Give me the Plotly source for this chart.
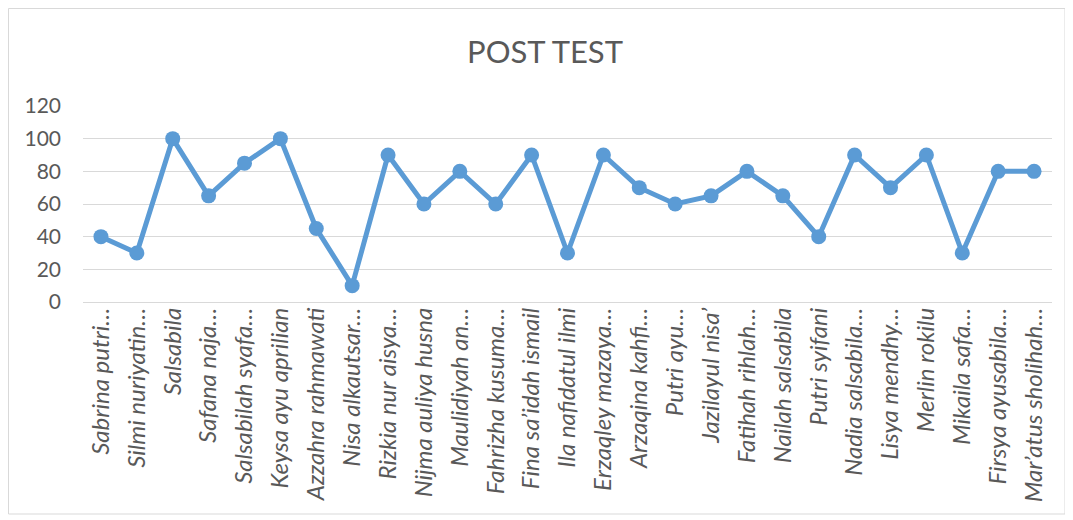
import plotly.graph_objects as go

names = [
    "Sabrina putri…", "Silmi nuriyatin…", "Salsabila", "Safana naja…",
    "Salsabilah syafa…", "Keysa ayu aprilian", "Azzahra rahmawati",
    "Nisa alkautsar…", "Rizkia nur aisya…", "Nijma auliya husna",
    "Maulidiyah an…", "Fahrizha kusuma…", "Fina sa’idah ismail",
    "Ila nafidatul ilmi", "Erzaqley mazaya…", "Arzaqina kahfi…",
    "Putri ayu…", "Jazilayul nisa’", "Fatihah rihlah…", "Nailah salsabila",
    "Putri syifani", "Nadia salsabila…", "Lisya mendhy…", "Merlin rokilu",
    "Mikaila safa…", "Firsya ayusabila…", "Mar’atus sholihah…",
]
scores = [40, 30, 100, 65, 85, 100, 45, 10, 90, 60, 80, 60, 90, 30, 90, 70,
          60, 65, 80, 65, 40, 90, 70, 90, 30, 80, 80]
y_ticks = [0, 20, 40, 60, 80, 100, 120]

OFF = 8  # page body margin
W, H = 1073 - OFF, 520 - OFF
# plot area in screen pixels
SL, SR, ST, SB = 83, 1052, 106, 302
L, T = SL - OFF, ST - OFF
R, B = W - (SR - OFF), H - (SB - OFF)
pw, ph = W - L - R, H - T - B

def px(x):
    return (x - OFF - L) / pw

def py(y):
    return (H - B - (y - OFF)) / ph

fig = go.Figure(go.Scatter(
    x=names, y=scores, mode="lines+markers",
    line=dict(color="#5B9BD5", width=5),
    marker=dict(color="#5B9BD5", size=15),
))

fig.update_layout(
    width=W, height=H,
    margin=dict(l=L, r=R, t=T, b=B),
    paper_bgcolor="white", plot_bgcolor="white",
    showlegend=False,
    title=dict(text="POST TEST", x=(545 - OFF) / W, xanchor="center", xref="container",
               y=1 - (52 - OFF) / H, yanchor="middle", yref="container",
               font=dict(family="Lato, Open Sans, sans-serif", size=31, color="#595959")),
    font=dict(family="Lato, Open Sans, sans-serif", color="#595959"),
    xaxis=dict(type="category", tickangle=-90, showgrid=False, showline=False,
               ticks="", tickfont=dict(size=24, style="italic", color="#595959"),
               range=[-0.5, len(names) - 0.5], automargin=False),
    yaxis=dict(range=[0, 120], tickvals=y_ticks, showgrid=True, gridcolor="#D9D9D9",
               gridwidth=1.2, zeroline=True, zerolinecolor="#D9D9D9", zerolinewidth=1.2,
               showline=False, ticks="", ticklen=0, ticklabelstandoff=21,
               automargin=False,
               tickfont=dict(size=21, color="#595959")),
    shapes=[dict(type="rect", xref="paper", yref="paper",
                 x0=px(8.5), x1=px(1065), y0=py(514), y1=py(8.5),
                 line=dict(color="#D9D9D9", width=1), fillcolor="rgba(0,0,0,0)",
                 layer="below")],
)

fig.write_html("out.html")
